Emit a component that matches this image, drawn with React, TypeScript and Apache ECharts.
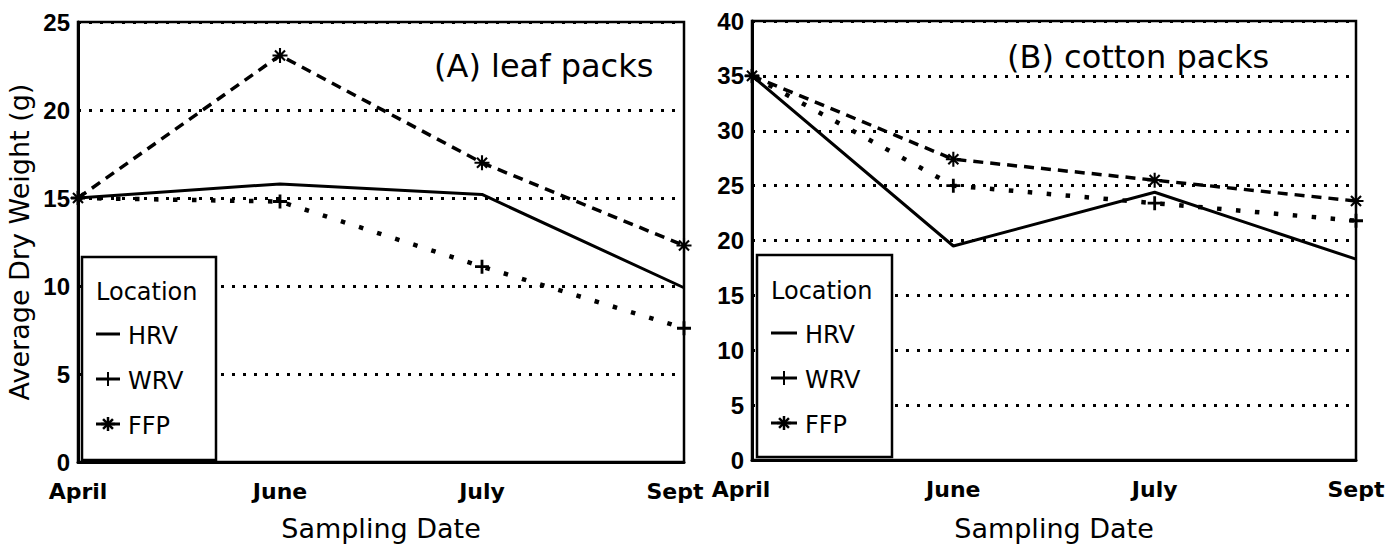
import React, { useEffect, useRef } from "react";
import * as echarts from "echarts";

// ---------- data ----------
const categories = ["April", "June", "July", "Sept"];
const locations = ["HRV", "WRV", "FFP"];
const panelTitles = ["(A) leaf packs", "(B) cotton packs"];
const xAxisTitle = "Sampling Date";
const yAxisTitle = "Average Dry Weight (g)";
const legendTitle = "Location";

const leafMax = 25;
const cottonMax = 40;
const tickStep = 5;

const leafHRV = [15, 15.8, 15.2, 9.9];
const leafWRV = [15, 14.8, 11.1, 7.6];
const leafFFP = [15, 23.1, 17.0, 12.3];

const cottonHRV = [35, 19.5, 24.4, 18.3];
const cottonWRV = [35, 25.0, 23.4, 21.8];
const cottonFFP = [35, 27.4, 25.5, 23.6];

// ---------- styles ----------
const BLACK = "#000";
const TEXT_FONT = "DejaVu Sans";
const TICK_FONT_X = "DejaVu Sans";
const TICK_FONT_Y = "Liberation Sans";

const PLUS = "path://M4,0H6V4H10V6H6V10H4V6H0V4H4Z";
const ASTERISK =
  "path://M0,8.6L20,8.6L20,11.4L0,11.4Z" +
  "M8.6,0L11.4,0L11.4,20L8.6,20Z" +
  "M4.3,2.3L17.7,15.7L15.7,17.7L2.3,4.3Z" +
  "M2.3,15.7L15.7,2.3L17.7,4.3L4.3,17.7Z";

const lineStyles: any[] = [
  { color: BLACK, width: 3, type: "solid" },
  { color: BLACK, width: 4.5, type: [4.5, 14.5], cap: "butt" },
  { color: BLACK, width: 3.5, type: [10, 7] },
];
const symbols = ["none", PLUS, ASTERISK];
const symbolSizes = [0, 14, 15];

// layout per panel
const panels = [
  {
    grid: { left: 78, top: 22, width: 606, height: 440 },
    max: leafMax,
    series: [leafHRV, leafWRV, leafFFP],
    title: { x: 434, y: 66 },
    legend: { x: 82, y: 257, w: 134, h: 203, titleY: 292, lineX1: 96, lineX2: 120, textX: 128, rows: [335, 380, 425] },
    labelShift: [0, 0, 0, 18],
    nameGap: 53,
  },
  {
    grid: { left: 752, top: 21, width: 604, height: 439 },
    max: cottonMax,
    series: [cottonHRV, cottonWRV, cottonFFP],
    title: { x: 1007, y: 57 },
    legend: { x: 757, y: 255, w: 135, h: 202, titleY: 291, lineX1: 771, lineX2: 797, textX: 805, rows: [334, 379, 424] },
    labelShift: [22, 0, 0, 0],
    nameGap: 55,
  },
];

function legendElements(p: any) {
  const L = p.legend;
  const els: any[] = [
    {
      type: "rect",
      shape: { x: L.x, y: L.y, width: L.w, height: L.h },
      style: { fill: "#fff", stroke: BLACK, lineWidth: 2.5 },
      z: 100,
    },
    {
      type: "text",
      x: L.lineX1,
      y: L.titleY,
      style: { text: legendTitle, font: `24px '${TEXT_FONT}'`, fill: BLACK, verticalAlign: "middle", align: "left" },
      z: 101,
    },
  ];
  const cx = (L.lineX1 + L.lineX2) / 2;
  locations.forEach((name, i) => {
    const y = L.rows[i];
    els.push({
      type: "line",
      shape: { x1: L.lineX1, y1: y - 1, x2: L.lineX2, y2: y - 1 },
      style: { stroke: BLACK, lineWidth: 3 },
      z: 101,
    });
    if (i === 1) {
      els.push({
        type: "line",
        shape: { x1: cx, y1: y - 8, x2: cx, y2: y + 6 },
        style: { stroke: BLACK, lineWidth: 2 },
        z: 101,
      });
    }
    if (i === 2) {
      const r = 7;
      [0, 45, 90, 135].forEach((deg) => {
        const a = (deg * Math.PI) / 180;
        els.push({
          type: "line",
          shape: { x1: cx - r * Math.cos(a), y1: y - 1 - r * Math.sin(a), x2: cx + r * Math.cos(a), y2: y - 1 + r * Math.sin(a) },
          style: { stroke: BLACK, lineWidth: 2.5 },
          z: 101,
        });
      });
    }
    els.push({
      type: "text",
      x: L.textX,
      y: y + 1,
      style: { text: name, font: `24px '${TEXT_FONT}'`, fill: BLACK, verticalAlign: "middle", align: "left" },
      z: 101,
    });
  });
  return els;
}

function buildOption() {
  const grid = panels.map((p) => ({
    ...p.grid,
    show: true,
    borderColor: BLACK,
    borderWidth: 2.5,
    backgroundColor: "transparent",
  }));

  const xAxis = panels.map((p, gi) => ({
    type: "category",
    gridIndex: gi,
    data: categories.map((c, i) =>
      p.labelShift[i] ? { value: c, textStyle: { padding: [0, p.labelShift[i], 0, 0] } } : c
    ),
    boundaryGap: false,
    axisLine: { show: true, lineStyle: { color: BLACK, width: 3 } },
    axisTick: { show: false },
    splitLine: { show: false },
    axisLabel: {
      interval: 0,
      color: BLACK,
      fontFamily: TICK_FONT_X,
      fontWeight: "bold",
      fontSize: 22,
      margin: 18,
    },
    name: xAxisTitle,
    nameLocation: "middle",
    nameGap: p.nameGap,
    nameTextStyle: { color: BLACK, fontFamily: TEXT_FONT, fontSize: 27 },
  }));

  const yAxis = panels.map((p, gi) => ({
    type: "value",
    gridIndex: gi,
    min: 0,
    max: p.max,
    interval: tickStep,
    axisLine: { show: true, lineStyle: { color: BLACK, width: 3 } },
    axisTick: { show: false },
    splitLine: { show: true, lineStyle: { color: BLACK, width: 3, type: [3, 8] } },
    axisLabel: {
      color: BLACK,
      fontFamily: TICK_FONT_Y,
      fontWeight: "bold",
      fontSize: 24,
      margin: 8,
    },
    ...(gi === 0
      ? {
          name: yAxisTitle,
          nameLocation: "middle",
          nameRotate: 90,
          nameGap: 45,
          nameTextStyle: { color: BLACK, fontFamily: TEXT_FONT, fontSize: 27 },
        }
      : {}),
  }));

  const series: any[] = [];
  panels.forEach((p, gi) => {
    p.series.forEach((data, si) => {
      series.push({
        type: "line",
        name: locations[si],
        xAxisIndex: gi,
        yAxisIndex: gi,
        data,
        symbol: symbols[si],
        symbolSize: symbolSizes[si],
        showSymbol: si !== 0,
        itemStyle: { color: BLACK },
        lineStyle: lineStyles[si],
        z: 2 + si,
      });
    });
  });

  const graphic: any[] = [];
  panels.forEach((p, gi) => {
    graphic.push({
      type: "text",
      x: p.title.x,
      y: p.title.y,
      style: { text: panelTitles[gi], font: `32px '${TEXT_FONT}'`, fill: BLACK, verticalAlign: "middle", align: "left" },
      z: 50,
    });
    graphic.push(...legendElements(p));
  });

  return {
    animation: false,
    backgroundColor: "#fff",
    grid,
    xAxis,
    yAxis,
    series,
    graphic,
  };
}

export default function App() {
  const ref = useRef<HTMLDivElement>(null);
  useEffect(() => {
    document.body.style.margin = "0";
    const chart = echarts.init(ref.current!, undefined, { renderer: "svg" });
    chart.setOption(buildOption() as any);
    return () => chart.dispose();
  }, []);
  return <div ref={ref} style={{ width: 1396, height: 554 }} />;
}
